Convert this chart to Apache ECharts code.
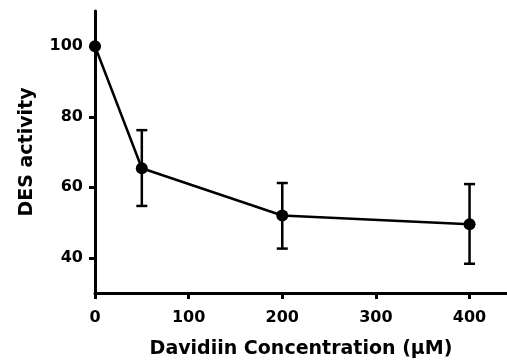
<!DOCTYPE html>
<html>
<head>
<meta charset="utf-8">
<script src="https://cdn.jsdelivr.net/npm/echarts@6/dist/echarts.min.js"></script>
<style>
  html, body { margin: 0; padding: 0; background: #fff; }
  #chart { width: 507px; height: 360px; }
</style>
</head>
<body>
<div id="chart"></div>
<script>
// concentration (uM) and DES activity, with error bar ends
const concentrations = [0, 50, 200, 400];
const activity = [100, 65.4, 52, 49.5];
const errLow = [100, 54.7, 42.6, 38.3];
const errHigh = [100, 76.2, 61.2, 60.9];
const xTicks = [0, 100, 200, 300, 400];
const yTicks = [40, 60, 80, 100];

const font = 'DejaVu Sans';
const chart = echarts.init(document.getElementById('chart'));

const lineData = concentrations.map((c, i) => [c, activity[i]]);
const errData = concentrations.map((c, i) => [c, errLow[i], errHigh[i]]);

chart.setOption({
  backgroundColor: '#fff',
  animation: false,
  grid: { left: 95, right: 0, top: 11, bottom: 67, outerBoundsMode: 'none', containLabel: false },
  xAxis: {
    type: 'value',
    min: 0,
    max: 440,
    name: 'Davidiin Concentration (\u03bcM)',
    nameLocation: 'middle',
    nameGap: 47,
    nameTextStyle: { color: '#000', fontFamily: font, fontWeight: 'bold', fontSize: 19 },
    axisLine: { lineStyle: { color: '#000', width: 3 } },
    axisTick: { length: 6, lineStyle: { color: '#000', width: 3 }, customValues: xTicks },
    axisLabel: { color: '#000', fontFamily: font, fontWeight: 'bold', fontSize: 16, margin: 17, customValues: xTicks },
    splitLine: { show: false }
  },
  yAxis: {
    type: 'value',
    min: 30,
    max: 110,
    name: 'DES activity',
    nameLocation: 'middle',
    nameGap: 58,
    nameTextStyle: { color: '#000', fontFamily: font, fontWeight: 'bold', fontSize: 19 },
    axisLine: { show: true, lineStyle: { color: '#000', width: 3 } },
    axisTick: { show: true, length: 6, lineStyle: { color: '#000', width: 3 }, customValues: yTicks },
    axisLabel: { color: '#000', fontFamily: font, fontWeight: 'bold', fontSize: 16, margin: 12, customValues: yTicks },
    splitLine: { show: false }
  },
  series: [
    {
      type: 'custom',
      clip: false,
      data: errData,
      renderItem: (params, api) => {
        const x = api.value(0);
        const lo = api.coord([x, api.value(1)]);
        const hi = api.coord([x, api.value(2)]);
        const w = 5.5;
        const style = { stroke: '#000', lineWidth: 2.5 };
        return {
          type: 'group',
          children: [
            { type: 'line', shape: { x1: lo[0], y1: lo[1], x2: hi[0], y2: hi[1] }, style },
            { type: 'line', shape: { x1: hi[0] - w, y1: hi[1], x2: hi[0] + w, y2: hi[1] }, style },
            { type: 'line', shape: { x1: lo[0] - w, y1: lo[1], x2: lo[0] + w, y2: lo[1] }, style }
          ]
        };
      },
      z: 3
    },
    {
      type: 'line',
      data: lineData,
      clip: false,
      symbol: 'circle',
      symbolSize: 12,
      itemStyle: { color: '#000' },
      lineStyle: { color: '#000', width: 2.5 },
      z: 4
    }
  ]
});
</script>
</body>
</html>
